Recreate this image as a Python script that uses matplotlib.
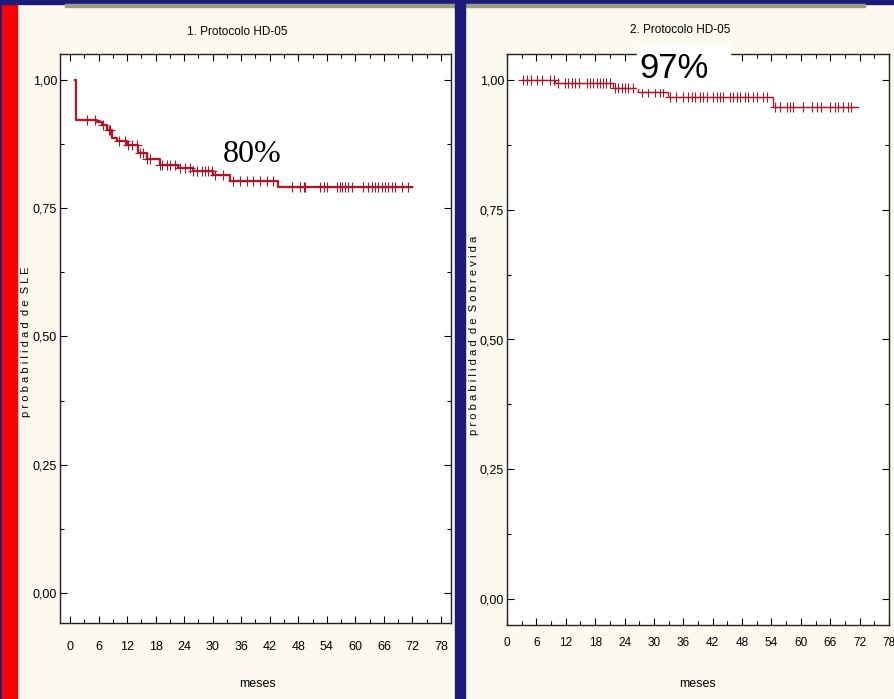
import numpy as np
import matplotlib
matplotlib.use('Agg')
import matplotlib.pyplot as plt
from matplotlib.patches import Rectangle

# panel 1: probabilidad de SLE (step times in meses, survival level after each step)
sle_times = [1.0, 1.2, 5.6, 6.7, 7.7, 8.8, 9.8, 11.9, 14.4, 16.1, 18.9, 22.8, 25.9, 30.1, 33.6, 43.8, 71.8]
sle_surv = [1.0, 0.922, 0.919, 0.912, 0.903, 0.887, 0.882, 0.873, 0.858, 0.846, 0.834, 0.828, 0.823, 0.815, 0.804, 0.791, 0.791]
sle_censored = [3.5, 5.3, 7.0, 8.1, 8.4, 10.2, 11.6, 12.3, 13.0, 14.0, 14.7, 15.4, 16.1, 16.8, 18.9, 19.3,
                20.3, 21.0, 22.1, 23.1, 24.2, 25.2, 25.9, 26.6, 27.7, 28.4, 29.1, 29.8, 30.5, 32.2, 34.3,
                35.7, 37.2, 38.5, 40.0, 41.4, 42.7, 46.6, 48.4, 49.1, 49.4, 52.6, 53.3, 54.0, 56.1, 56.8,
                57.1, 57.8, 58.5, 59.2, 61.7, 62.7, 63.4, 64.1, 64.8, 65.5, 66.2, 66.9, 67.6, 68.3, 69.7, 71.1]

# panel 2: probabilidad de Sobrevida
sv_times = [3.0, 9.8, 21.7, 26.8, 32.9, 54.4, 71.7]
sv_surv = [1.0, 0.995, 0.984, 0.976, 0.967, 0.947, 0.947]
sv_censored = [3.3, 4.0, 5.0, 6.1, 7.1, 8.8, 9.5, 10.5, 11.8, 12.5, 13.2, 13.9, 14.6, 16.3, 16.9, 17.6,
               18.3, 19.0, 19.7, 20.3, 21.0, 22.0, 22.7, 23.4, 24.1, 24.8, 25.8, 27.5, 28.8, 30.2, 31.2,
               31.9, 33.3, 34.6, 36.0, 37.0, 37.7, 38.4, 39.4, 40.1, 40.8, 42.1, 42.8, 43.5, 44.1, 45.5,
               46.2, 46.9, 47.6, 48.6, 49.2, 50.3, 51.0, 52.3, 53.0, 54.7, 55.7, 57.1, 57.8, 58.4, 60.5,
               62.2, 63.2, 64.2, 65.9, 66.9, 67.6, 68.6, 69.7, 70.3]

x_ticks = list(range(0, 79, 6))
y_ticks = [0.0, 0.25, 0.5, 0.75, 1.0]
y_labels = ['0,00', '0,25', '0,50', '0,75', '1,00']

sans = 'Liberation Sans'
cream = '#fcf9ee'
navy = '#1c1c78'


def level_at(times, surv, t):
    idx = np.searchsorted(times, t, side='right') - 1
    return np.array(surv)[np.clip(idx, 0, len(surv) - 1)]


def km_panel(ax, times, surv, censored, xlim, ylim, line_w, pad, xsize):
    ax.step(times, surv, where='post', color='#c8101c', lw=line_w, zorder=3)
    ax.plot(censored, level_at(times, surv, censored), ls='none', marker='+',
            ms=7, mew=0.8, color='#a3182a', zorder=4)
    ax.set_xlim(*xlim)
    ax.set_ylim(*ylim)
    ax.set_xticks(x_ticks)
    ax.set_xticklabels([str(v) for v in x_ticks], family=sans, fontsize=xsize)
    ax.set_yticks(y_ticks)
    ax.set_yticklabels(y_labels, family=sans, fontsize=9)
    ax.set_xticks(np.arange(3, 79, 6), minor=True)
    ax.set_yticks(np.arange(0.125, 1.0, 0.25), minor=True)
    ax.tick_params(which='both', direction='in', top=True, right=True, width=0.8)
    ax.tick_params(which='major', length=5)
    ax.tick_params(which='minor', length=3)
    ax.tick_params(axis='x', pad=pad)
    ax.tick_params(axis='y', pad=2)
    for s in ax.spines.values():
        s.set_linewidth(1.0)
        s.set_color('#202020')
    ax.set_facecolor('white')


fig = plt.figure(figsize=(8.95, 6.99), dpi=100, facecolor=cream)
W, H = 895.0, 699.0

# slide decoration
fig.patches.append(Rectangle((0, 0), 2 / W, 1, transform=fig.transFigure, color=navy, zorder=0))
fig.patches.append(Rectangle((2 / W, 0), 15 / W, 1, transform=fig.transFigure, color='#ff0000', zorder=0))
fig.patches.append(Rectangle((0, 1 - 4 / H), 1, 4 / H, transform=fig.transFigure, color=navy, zorder=0))
fig.patches.append(Rectangle((65 / W, 1 - 7 / H), 800 / W, 3 / H, transform=fig.transFigure, color='#9c9c84', zorder=0))
fig.patches.append(Rectangle((455 / W, 0), 10 / W, 1, transform=fig.transFigure, color=navy, zorder=0))

ax1 = fig.add_axes([60 / W, 1 - 623 / H, 391 / W, 569 / H])
km_panel(ax1, sle_times, sle_surv, sle_censored, (-2.1, 80.1), (-0.0585, 1.0507), 1.6, 13, 9)

ax2 = fig.add_axes([507 / W, 1 - 625 / H, 382 / W, 571 / H])
km_panel(ax2, sv_times, sv_surv, sv_censored, (0, 78), (-0.05, 1.05), 1.0, 9, 8.5)

# titles, axis labels
fig.text(237 / W, 1 - 32 / H, '1. Protocolo HD-05', ha='center', va='center', family=sans, fontsize=8.5)
fig.text(680 / W, 1 - 30 / H, '2. Protocolo HD-05', ha='center', va='center', family=sans, fontsize=8.5)
fig.text(258 / W, 1 - 684 / H, 'meses', ha='center', va='center', family=sans, fontsize=9)
fig.text(698 / W, 1 - 684 / H, 'meses', ha='center', va='center', family=sans, fontsize=9)
fig.text(26 / W, 1 - 342 / H, 'p r o b a b i l i d a d  d e  S L E', rotation=90,
         ha='center', va='center', family=sans, fontsize=8)
fig.text(474 / W, 1 - 335 / H, 'p r o b a b i l i d a d  d e  S o b r e v i d a', rotation=90,
         ha='center', va='center', family=sans, fontsize=8)

# percent callouts
fig.text(252 / W, 1 - 155 / H, '80%', ha='center', va='center', family='Liberation Serif', fontsize=23)
fig.patches.append(Rectangle((637 / W, 1 - 88 / H), 93 / W, 43 / H, transform=fig.transFigure,
                             color='white', zorder=5))
fig.text(674 / W, 1 - 68 / H, '97%', ha='center', va='center', family=sans, fontsize=25, zorder=6)

fig.savefig('out.png', dpi=100, facecolor=cream)
